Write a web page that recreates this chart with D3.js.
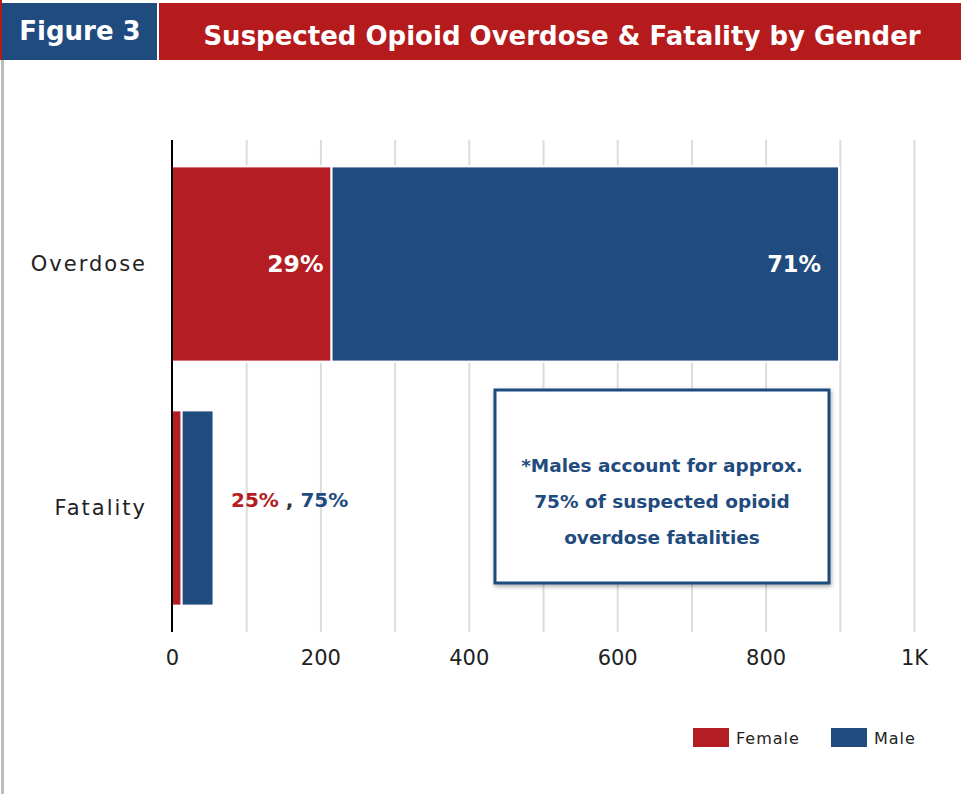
<!DOCTYPE html>
<html>
<head>
<meta charset="utf-8">
<script src="https://cdn.jsdelivr.net/npm/d3@7"></script>
<style>
  html, body { margin: 0; padding: 0; background: #fff; }
  svg { display: block; }
  .tick-label text { font-family: "DejaVu Sans", sans-serif; }
</style>
</head>
<body>
<div id="chart"></div>
<script>
// data
const categories = [`Overdose`, `Fatality`];
const female = [215, 13];
const male = [684, 43];
const pctLabels = [[`29%`, `71%`], [`25%`, `75%`]];
const xTicks = [0, 200, 400, 600, 800, 1000];
const gridTicks = [100, 200, 300, 400, 500, 600, 700, 800, 900, 1000];
const seriesNames = [`Female`, `Male`];

const colors = {red: `#b31d23`, blue: `#1f4b7e`, headRed: `#b51b1d`, headBlue: `#1f4b7f`};
const width = 961;
const height = 794;
const boldFont = `"DejaVu Sans", sans-serif`;
const regFont = `"DejaVu Sans", sans-serif`;

const svg = d3.select(`#chart`).append(`svg`)
  .attr(`width`, width)
  .attr(`height`, height);

const defs = svg.append(`defs`);
const shadow = defs.append(`filter`).attr(`id`, `shadow`)
  .attr(`x`, `-10%`).attr(`y`, `-10%`).attr(`width`, `130%`).attr(`height`, `130%`);
shadow.append(`feDropShadow`)
  .attr(`dx`, 1).attr(`dy`, 2).attr(`stdDeviation`, 2)
  .attr(`flood-color`, `#000`).attr(`flood-opacity`, 0.35);

// left page border
svg.append(`rect`).attr(`x`, 0).attr(`y`, 0).attr(`width`, 2).attr(`height`, 60).attr(`fill`, colors.headRed);
svg.append(`rect`).attr(`x`, 1).attr(`y`, 60).attr(`width`, 3).attr(`height`, height - 60).attr(`fill`, `#bdbdbd`);

// header
svg.append(`rect`).attr(`x`, 2).attr(`y`, 3).attr(`width`, 155).attr(`height`, 57).attr(`fill`, colors.headBlue);
svg.append(`rect`).attr(`x`, 159).attr(`y`, 3).attr(`width`, width - 159).attr(`height`, 57).attr(`fill`, colors.headRed);
svg.append(`text`)
  .attr(`x`, 80).attr(`y`, 31)
  .attr(`dy`, `0.35em`)
  .attr(`text-anchor`, `middle`)
  .attr(`fill`, `#fff`)
  .style(`font-family`, boldFont).style(`font-weight`, 700).style(`font-size`, `26px`)
  .text(`Figure 3`);
svg.append(`text`)
  .attr(`x`, 562).attr(`y`, 36)
  .attr(`dy`, `0.35em`)
  .attr(`text-anchor`, `middle`)
  .attr(`fill`, `#fff`)
  .style(`font-family`, boldFont).style(`font-weight`, 700).style(`font-size`, `26px`)
  .text(`Suspected Opioid Overdose & Fatality by Gender`);

// scales
const x = d3.scaleLinear().domain([0, 1000]).range([172, 914]);
const y = d3.scaleBand().domain(categories).range([142, 630])
  .paddingInner(0.2).paddingOuter(0.1);

// grid lines
svg.append(`g`)
  .attr(`transform`, `translate(0, 632)`)
  .call(d3.axisBottom(x).tickValues(gridTicks).tickSize(-492).tickFormat(``))
  .call(g => g.select(`.domain`).remove())
  .call(g => g.selectAll(`line`).attr(`stroke`, `#dcdcdc`).attr(`stroke-width`, 2));

// x axis labels
svg.append(`g`)
  .attr(`class`, `tick-label`)
  .attr(`transform`, `translate(0, 632)`)
  .call(d3.axisBottom(x).tickValues(xTicks).tickSize(0).tickPadding(18)
    .tickFormat(d => d === 1000 ? `1K` : d))
  .call(g => g.select(`.domain`).remove())
  .call(g => g.selectAll(`text`).attr(`fill`, `#222`).style(`font-size`, `21px`));

// stacked bars
const stackData = categories.map((c, i) => ({cat: c, Female: female[i], Male: male[i]}));
const stack = d3.stack().keys(seriesNames)(stackData);
const color = d3.scaleOrdinal().domain(seriesNames).range([colors.red, colors.blue]);

svg.append(`g`).selectAll(`g`)
  .data(stack)
  .join(`g`)
    .attr(`fill`, d => color(d.key))
  .selectAll(`rect`)
  .data(d => d)
  .join(`rect`)
    .attr(`x`, d => x(d[0]))
    .attr(`y`, d => y(d.data.cat))
    .attr(`width`, d => x(d[1]) - x(d[0]))
    .attr(`height`, y.bandwidth())
    .attr(`stroke`, `#fff`)
    .attr(`stroke-width`, 2);

// zero line
svg.append(`line`)
  .attr(`x1`, x(0)).attr(`x2`, x(0))
  .attr(`y1`, 140).attr(`y2`, 632)
  .attr(`stroke`, `#000`).attr(`stroke-width`, 2);

// y labels
svg.append(`g`).selectAll(`text`)
  .data(categories)
  .join(`text`)
    .attr(`x`, 147)
    .attr(`y`, d => y(d) + y.bandwidth() / 2)
    .attr(`dy`, `0.35em`)
    .attr(`text-anchor`, `end`)
    .attr(`fill`, `#222`)
    .style(`font-family`, regFont).style(`font-size`, `21px`)
    .style(`letter-spacing`, `2px`)
    .text(d => d);

// percentage labels on overdose bar
const od = stackData[0];
svg.append(`text`)
  .attr(`x`, x(od.Female) - 8).attr(`y`, y(od.cat) + y.bandwidth() / 2)
  .attr(`dy`, `0.35em`).attr(`text-anchor`, `end`).attr(`fill`, `#fff`)
  .style(`font-family`, boldFont).style(`font-weight`, 700).style(`font-size`, `23.5px`)
  .text(pctLabels[0][0]);
svg.append(`text`)
  .attr(`x`, x(od.Female + od.Male) - 18).attr(`y`, y(od.cat) + y.bandwidth() / 2)
  .attr(`dy`, `0.35em`).attr(`text-anchor`, `end`).attr(`fill`, `#fff`)
  .style(`font-family`, boldFont).style(`font-weight`, 700).style(`font-size`, `22.5px`)
  .text(pctLabels[0][1]);

// fatality label
const fatLabel = svg.append(`text`)
  .attr(`x`, 231).attr(`y`, y(categories[1]) + y.bandwidth() / 2 - 8)
  .attr(`dy`, `0.35em`)
  .style(`font-family`, boldFont).style(`font-weight`, 700).style(`font-size`, `20px`);
fatLabel.append(`tspan`).attr(`fill`, colors.red).text(pctLabels[1][0]);
fatLabel.append(`tspan`).attr(`fill`, `#333`).text(` , `);
fatLabel.append(`tspan`).attr(`fill`, colors.blue).text(pctLabels[1][1]);

// note box
const box = svg.append(`g`);
box.append(`rect`)
  .attr(`x`, 495).attr(`y`, 390)
  .attr(`width`, 334).attr(`height`, 193)
  .attr(`fill`, `#fff`)
  .attr(`stroke`, colors.blue).attr(`stroke-width`, 3)
  .attr(`filter`, `url(#shadow)`);
const noteLines = [`*Males account for approx.`, `75% of suspected opioid`, `overdose fatalities`];
box.selectAll(`text`)
  .data(noteLines)
  .join(`text`)
    .attr(`x`, 662)
    .attr(`y`, (d, i) => 466 + i * 36)
    .attr(`dy`, `0.35em`)
    .attr(`text-anchor`, `middle`)
    .attr(`fill`, colors.blue)
    .style(`font-family`, boldFont).style(`font-weight`, 700).style(`font-size`, `18.5px`)
    .text(d => d);

// legend
const legend = svg.append(`g`).selectAll(`g`)
  .data(seriesNames)
  .join(`g`)
    .attr(`transform`, (d, i) => `translate(${693 + i * 138}, 728)`);
legend.append(`rect`)
  .attr(`width`, 36).attr(`height`, 19)
  .attr(`fill`, d => color(d));
legend.append(`text`)
  .attr(`x`, 43).attr(`y`, 10)
  .attr(`dy`, `0.35em`)
  .attr(`fill`, `#222`)
  .style(`font-family`, regFont).style(`font-size`, `16px`)
  .style(`letter-spacing`, `1px`)
  .text(d => d);
</script>
</body>
</html>
